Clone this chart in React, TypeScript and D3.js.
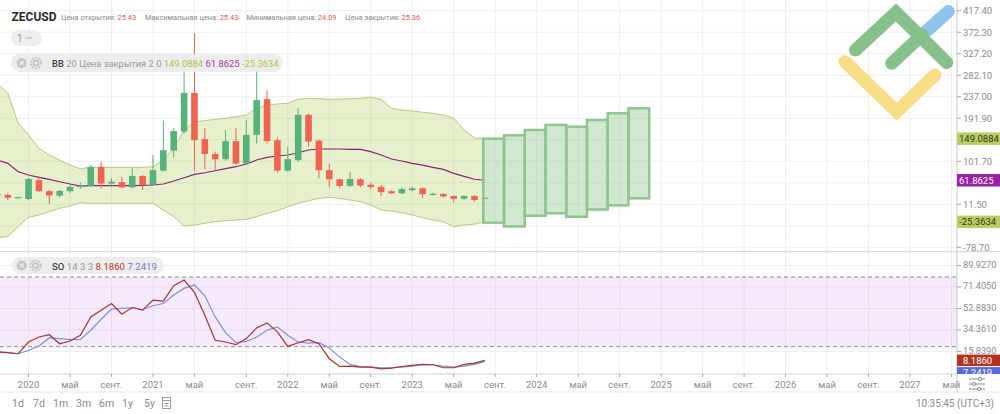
import React from "react";
import * as d3 from "d3";

// ---- data (monthly candles, index 0 = first slot, partly off-screen) ----
const candleOpen = [33, 31, 25.5, 22.6, 62, 39, 29.5, 39, 49, 50, 90, 55, 58, 47, 71, 52, 82, 124, 164, 245, 148, 117, 106, 144, 97, 157, 232, 146, 82, 104, 199, 145, 83, 64, 50, 64, 52.5, 48, 39, 34.5, 41, 45, 33, 33, 29, 23, 29, 25.43];
const candleHigh = [37, 34.5, 28, 67, 71, 42, 42, 51, 57, 94, 101, 66, 69, 87, 73, 115, 187, 171, 314, 371, 171, 122, 167, 171, 188, 290, 251, 152, 132, 213, 202, 147, 97, 65, 80, 66, 57, 52, 41, 47, 48, 47, 36, 35, 30, 30, 31, 25.43];
const candleLow = [28, 20.5, 24, 20, 37, 12, 26, 35, 44, 48, 45, 48, 45, 45, 41, 50, 80, 110, 160, 82, 85, 83, 103, 94, 94, 139, 139, 78, 80, 101, 132, 66, 48, 45, 48, 47, 43, 29, 33, 33, 39, 24, 30, 26, 15, 21, 17, 24.09];
const candleClose = [31, 25.3, 26.5, 64.5, 39, 30, 39.5, 48, 50, 90, 55, 59, 47, 71, 52, 83, 125, 165, 245, 146, 117, 106, 144, 97, 157, 230, 144, 82, 106, 199, 143, 83, 64, 50, 64.5, 51, 47.8, 37, 34.5, 43.5, 45, 32.5, 33.5, 28, 23, 29, 20.5, 25.36];

const bbUpper = [265, 244.2, 181.3, 156.8, 128.9, 114.8, 104.3, 93.8, 86, 89, 89, 89, 89, 89, 89, 90, 104.3, 128.9, 167.2, 184.7, 186.8, 189.7, 191.8, 195.1, 198.7, 212.7, 219.7, 221.8, 223.2, 231.6, 233.7, 232.9, 231.6, 232.2, 232.9, 233.7, 235.8, 231.6, 212.7, 209.2, 207.1, 204.3, 202.3, 198.7, 191.8, 167.2, 150.3, 149.0884];
const bbMiddle = [104, 97.4, 79.8, 72.9, 68, 63.8, 58.8, 54, 49.8, 50.5, 50.5, 50.5, 50.5, 50.5, 51, 51.9, 54, 60.3, 67.2, 74.3, 77.7, 81.9, 86.1, 90.3, 95.9, 104.3, 110, 112.7, 114.8, 119.6, 125.3, 127.4, 127.4, 127.4, 126.8, 126.8, 121.8, 114.8, 106.4, 102.2, 97.4, 93.8, 89, 84.8, 76.4, 70, 64, 61.8625];
const bbLower = [-58, -56.5, -35.5, -15.8, -11, -4.1, 3, 7.9, 14.8, 13.5, 13.5, 13.5, 13.5, 13.5, 13.5, 13.5, -0.5, -14.6, -34.1, -32, -28.4, -25, -22.9, -21.5, -20, -14.6, -7.4, -2, 6.4, 13.5, 19, 24, 26.1, 24, 20.5, 16.9, 10, -0.5, -2.6, -6.2, -11, -16.6, -21.5, -25, -35.5, -32, -29.9, -25.3634];

const soK = [15.4, 14.8, 13.9, 24, 28.3, 30.3, 22.5, 24.9, 29.8, 45.6, 51.4, 57.2, 48, 53.7, 51.4, 60.1, 59.2, 72.5, 77.4, 66.7, 47.1, 25.5, 24, 21.7, 26.9, 36.1, 40.5, 32.7, 20.2, 23.4, 26, 22.5, 9.6, 2.9, 3.2, 2.4, 2.4, 0.9, 1.5, 2.9, 3.8, 4.7, 4.4, 1.8, 1.8, 4.7, 5.8, 8.186];
const soD = [15.4, 14.8, 13.9, 16.8, 20.5, 27.5, 26.9, 26, 26.3, 34.1, 43.6, 52.3, 52.9, 53.5, 52, 55.2, 57.2, 64.4, 70.2, 73.1, 63.8, 45.6, 32.1, 23.4, 24.6, 28.3, 34.1, 37, 29.8, 24, 23.1, 23.4, 18.8, 11, 4.7, 2.9, 2.4, 1.8, 1.8, 2.4, 3.2, 4.4, 4.4, 3.2, 2.4, 3.2, 4.7, 7.2419];

const forecastTop = [149.1, 156.1, 167.3, 177.9, 174.2, 188.2, 202.3, 212.7];
const forecastBottom = [-27, -35, -12.5, -7.4, -14.6, 0.5, 9.3, 24];

const priceTicks = [417.4, 372.3, 327.2, 282.1, 237.0, 191.9, 146.8, 101.7, 56.6, 11.5, -33.6, -78.7];
const soTicks = [89.927, 71.405, 52.883, 34.361, 15.839];
const soLevels = [80, 20];

const xTickLabels = ["2020", "май", "сент.", "2021", "май", "сент.", "2022", "май", "сент.", "2023", "май", "сент.", "2024", "май", "сент.", "2025", "май", "сент.", "2026", "май", "сент.", "2027", "май"];
const xTickSlots = [3, 7, 11, 15, 19, 24, 28, 32, 36, 40, 44, 48, 52, 56, 60, 64, 68, 72, 76, 80, 84, 88, 92];

const toolbarLabels = ["1d", "7d", "1m", "3m", "6m", "1y", "5y"];
const headerLabels = ["Цена открытия:", "Максимальная цена:", "Минимальная цена:", "Цена закрытия:"];
const headerValues = ["25.43", "25.43", "24.09", "25.36"];

// ---- layout ----
const W = 1000;
const H = 414;
const AX = 957;
const P_TOP = 0;
const P_BOT = 251.7;
const S_TOP = 251.7;
const S_BOT = 374;
const BADGE_H = 11.5;
const FONT = "Roboto, 'Open Sans', Arial, sans-serif";

const GREEN = "#55b27a";
const RED = "#ee6450";

function CloseIcon({ x, y }: { x: number; y: number }) {
  return (
    <g>
      <circle cx={x} cy={y} r={5} fill="#c4c4c4" />
      <path d={`M${x - 2},${y - 2}L${x + 2},${y + 2}M${x + 2},${y - 2}L${x - 2},${y + 2}`} stroke="#f0f0f0" strokeWidth={1.3} />
    </g>
  );
}
function GearIcon({ x, y }: { x: number; y: number }) {
  return (
    <g>
      <circle cx={x} cy={y} r={5.2} fill="none" stroke="#c8c8c8" strokeWidth={2} strokeDasharray="2 1.3" />
      <circle cx={x} cy={y} r={3.6} fill="#c8c8c8" />
      <circle cx={x} cy={y} r={1.6} fill="#eeeeee" />
    </g>
  );
}

export default function App() {
  const n = candleOpen.length;
  const last = n - 1;
  const x = d3.scaleLinear().domain([0, 92]).range([-2.57, -2.57 + 92 * 10.37]);
  const py = d3.scaleLinear().domain([-87.9, 439.84]).range([P_BOT, P_TOP]);
  const sy = d3.scaleLinear().domain([-3.57, 101.8]).range([S_BOT, S_TOP]);

  const idx = d3.range(n);
  const band = d3.area<number>().x((i) => x(i)).y0((i) => py(bbLower[i])).y1((i) => py(bbUpper[i]));
  const lineOf = (arr: number[], sc: d3.ScaleLinear<number, number>) =>
    d3.line<number>().x((i) => x(i)).y((i) => sc(arr[i]))(idx) || "";

  const bodyW = 6.6;

  const priceBadges = [
    { v: bbUpper[last], bg: "#b9ce5f", fg: "#333", label: bbUpper[last].toFixed(4) },
    { v: bbMiddle[last], bg: "#9a1fa6", fg: "#fff", label: bbMiddle[last].toFixed(4) },
    { v: bbLower[last], bg: "#b9ce5f", fg: "#333", label: bbLower[last].toFixed(4) },
  ];
  const soBadgeK = sy(soK[last]);
  let soBadgeD = sy(soD[last]);
  if (Math.abs(soBadgeD - soBadgeK) < BADGE_H + 1) soBadgeD = soBadgeK + BADGE_H + 1;
  const soBadges = [
    { y: soBadgeK, bg: "#b5321f", fg: "#fff", label: soK[last].toFixed(4) },
    { y: soBadgeD, bg: "#5a6bd8", fg: "#fff", label: soD[last].toFixed(4) },
  ];
  const badgeYs = priceBadges.map((b) => py(b.v));

  const toolbarX = [12, 33, 53, 76, 99, 122, 144];
  const headerX = [61, 145, 246.5, 345];

  return (
    <div style={{ position: "fixed", left: 0, top: 0, width: W, height: H, background: "#fff" }}>
      <svg width={W} height={H} viewBox={`0 0 ${W} ${H}`} style={{ display: "block", fontFamily: FONT }}>
        <defs>
          <clipPath id="clipP">
            <rect x={0} y={P_TOP} width={AX} height={P_BOT - P_TOP} />
          </clipPath>
          <clipPath id="clipS">
            <rect x={0} y={S_TOP} width={AX} height={S_BOT - S_TOP} />
          </clipPath>
          <clipPath id="clipBadge">
            <rect x={AX} y={0} width={W - AX} height={S_BOT} />
          </clipPath>
        </defs>
        <rect x={0} y={0} width={W} height={H} fill="#fff" />

        {/* grid */}
        <g stroke="#eeeeee" strokeWidth={1}>
          {priceTicks.map((t, i) => (
            <line key={"pg" + i} x1={0} x2={AX} y1={py(t)} y2={py(t)} />
          ))}
          {soTicks.map((t, i) => (
            <line key={"sg" + i} x1={0} x2={AX} y1={sy(t)} y2={sy(t)} />
          ))}
          {xTickSlots.map((s, i) => (
            <line key={"vg" + i} x1={x(s)} x2={x(s)} y1={0} y2={S_BOT} />
          ))}
        </g>

        {/* logo */}
        <g strokeLinecap="round" fill="none" strokeWidth={13}>
          <path d="M845,61.7L896.7,111.7L935,75" stroke="#f8dc86" />
          <path d="M921,36L948.3,11.5" stroke="#8cc4ec" />
          <path d="M855.5,50L896,12.5L946.7,62.5" stroke="#86c08a" />
          <path d="M891.7,63.3L922,35" stroke="#86c08a" />
        </g>

        {/* price panel */}
        <g clipPath="url(#clipP)">
          <path d={band(idx) || ""} fill="rgba(175,205,90,0.3)" />
          <path d={lineOf(bbUpper, py)} fill="none" stroke="#b7c97c" strokeWidth={1} />
          <path d={lineOf(bbLower, py)} fill="none" stroke="#b7c97c" strokeWidth={1} />
          <path d={lineOf(bbMiddle, py)} fill="none" stroke="#8a2277" strokeWidth={1.2} />
          {idx.map((i) => {
            const o = candleOpen[i];
            const c = candleClose[i];
            const up = c >= o;
            const col = up ? GREEN : RED;
            const yTop = py(Math.max(o, c));
            const yBot = py(Math.min(o, c));
            const cx = x(i);
            return (
              <g key={"c" + i}>
                <line x1={cx} x2={cx} y1={py(candleHigh[i])} y2={py(candleLow[i])} stroke={col} strokeWidth={1} />
                <rect x={cx - bodyW / 2} y={yTop} width={bodyW} height={Math.max(1.2, yBot - yTop)} fill={col} />
              </g>
            );
          })}
          {forecastTop.map((t, k) => {
            const x0 = x(last - 0.15 + 2 * k);
            const x1 = x(last - 0.15 + 2 * k + 2);
            return (
              <rect
                key={"f" + k}
                x={x0}
                y={py(t)}
                width={x1 - x0}
                height={py(forecastBottom[k]) - py(t)}
                fill="rgba(120,190,120,0.35)"
                stroke="#8fc68f"
                strokeWidth={2.5}
              />
            );
          })}
        </g>

        {/* stochastic panel */}
        <g clipPath="url(#clipS)">
          <rect x={0} y={sy(soLevels[0])} width={AX} height={sy(soLevels[1]) - sy(soLevels[0])} fill="rgba(200,150,240,0.2)" />
          {soLevels.map((l, i) => (
            <line key={"lv" + i} x1={0} x2={AX} y1={sy(l)} y2={sy(l)} stroke="#8c8c8c" strokeWidth={1} strokeDasharray="4 3" />
          ))}
          <path d={lineOf(soD, sy)} fill="none" stroke="#8090dc" strokeWidth={1.2} />
          <path d={lineOf(soK, sy)} fill="none" stroke="#a8352a" strokeWidth={1.2} />
        </g>

        {/* axes lines */}
        <line x1={0} x2={W} y1={S_TOP} y2={S_TOP} stroke="#cfcfcf" />
        <line x1={0} x2={AX} y1={S_BOT} y2={S_BOT} stroke="#cfcfcf" />
        <line x1={AX} x2={AX} y1={0} y2={392} stroke="#c8c8c8" />
        <line x1={0} x2={W} y1={392} y2={392} stroke="#e3e3e3" />

        {/* right axis labels */}
        <g fontSize={9.5} fill="#8a8a8a">
          {priceTicks.map((t, i) => {
            const yy = py(t);
            const hidden = badgeYs.some((b) => Math.abs(b - yy) < 9);
            return (
              <g key={"pl" + i}>
                <line x1={AX} x2={AX + 4} y1={yy} y2={yy} stroke="#aaa" />
                {!hidden && (
                  <text x={AX + 6} y={yy} dominantBaseline="central">
                    {t.toFixed(2)}
                  </text>
                )}
              </g>
            );
          })}
          {soTicks.map((t, i) => (
            <g key={"sl" + i}>
              <line x1={AX} x2={AX + 4} y1={sy(t)} y2={sy(t)} stroke="#aaa" />
              <text x={AX + 6} y={sy(t) - 1} fontSize={9.2} dominantBaseline="central">
                {t.toFixed(4)}
              </text>
            </g>
          ))}
        </g>

        {/* badges */}
        <g fontSize={9.5}>
          {priceBadges.map((b, i) => (
            <g key={"pb" + i}>
              <rect x={AX} y={py(b.v) - BADGE_H / 2 - 0.5} width={W - AX} height={BADGE_H + 1} fill={b.bg} />
              <text x={AX + 2} y={py(b.v)} dominantBaseline="central" fill={b.fg}>
                {b.label}
              </text>
            </g>
          ))}
          <g clipPath="url(#clipBadge)">
            {soBadges.map((b, i) => (
              <g key={"sb" + i}>
                <rect x={AX} y={b.y - BADGE_H / 2} width={W - AX} height={BADGE_H} fill={b.bg} />
                <text x={AX + 6} y={b.y} dominantBaseline="central" fill={b.fg}>
                  {b.label}
                </text>
              </g>
            ))}
          </g>
        </g>

        {/* x axis */}
        <g fontSize={9.5} fill="#8a8a8a" textAnchor="middle">
          {xTickSlots.map((s, i) => (
            <g key={"xt" + i}>
              <line x1={x(s)} x2={x(s)} y1={S_BOT} y2={S_BOT + 3} stroke="#aaa" />
              <text x={x(s)} y={384} dominantBaseline="central">
                {xTickLabels[i]}
              </text>
            </g>
          ))}
        </g>
        {/* settings icon */}
        <g stroke="#8a8a8a" strokeWidth={1} fill="#fff">
          <line x1={969} x2={985} y1={379} y2={379} />
          <line x1={969} x2={985} y1={384} y2={384} />
          <line x1={969} x2={985} y1={389} y2={389} />
          <circle cx={980} cy={379} r={1.6} />
          <circle cx={974} cy={384} r={1.6} />
          <circle cx={979} cy={389} r={1.6} />
        </g>

        {/* header */}
        <text x={11.5} y={17} fontSize={12} fontWeight={700} fill="#2a2a2a" dominantBaseline="central">
          ZECUSD
        </text>
        {headerLabels.map((l, i) => (
          <text key={"h" + i} x={headerX[i]} y={17} fontSize={7.4} dominantBaseline="central">
            <tspan fill="#888">{l} </tspan>
            <tspan fill="#e25a4d">{headerValues[i]}</tspan>
          </text>
        ))}

        {/* 1 — pill */}
        <rect x={11} y={30} width={31} height={16} rx={8} fill="#eeeeee" />
        <text x={17} y={38} fontSize={10} fill="#9a9a9a" dominantBaseline="central">
          1
        </text>
        <line x1={26} x2={32} y1={38} y2={38} stroke="#b0b0b0" />

        {/* BB legend pill */}
        <rect x={11} y={54} width={272} height={18} rx={9} fill="rgba(236,236,236,0.92)" />
        <CloseIcon x={21.7} y={63} />
        <GearIcon x={36} y={63} />
        <text x={52} y={63} fontSize={9.4} dominantBaseline="central">
          <tspan fill="#444" fontWeight={500}>BB</tspan>
          <tspan fill="#9a9a9a"> 20 Цена закрытия 2 0 </tspan>
          <tspan fill="#adc447">{bbUpper[last].toFixed(4)} </tspan>
          <tspan fill="#a23aab">{bbMiddle[last].toFixed(4)} </tspan>
          <tspan fill="#adc447">{bbLower[last].toFixed(4)}</tspan>
        </text>

        {/* SO legend pill */}
        <rect x={12} y={257} width={152} height={17} rx={8.5} fill="rgba(236,236,236,0.92)" />
        <CloseIcon x={21.7} y={265.5} />
        <GearIcon x={35.5} y={265.5} />
        <text x={52} y={265.5} fontSize={9.6} dominantBaseline="central">
          <tspan fill="#444" fontWeight={500}>SO</tspan>
          <tspan fill="#9a9a9a"> 14 3 3 </tspan>
          <tspan fill="#b8392b">{soK[last].toFixed(4)} </tspan>
          <tspan fill="#6a7cd6">{soD[last].toFixed(4)}</tspan>
        </text>

        {/* toolbar */}
        <g fontSize={10.5} fill="#8a8a8a">
          {toolbarLabels.map((l, i) => (
            <text key={"tb" + i} x={toolbarX[i]} y={403} dominantBaseline="central">
              {l}
            </text>
          ))}
        </g>
        <g stroke="#9a9a9a" fill="none" strokeWidth={1}>
          <rect x={162.5} y={397.5} width={8} height={11} />
          <line x1={162.5} x2={170.5} y1={400.5} y2={400.5} />
          <line x1={164.5} x2={168.5} y1={403.5} y2={403.5} />
          <line x1={164.5} x2={168.5} y1={406} y2={406} />
        </g>
        <text x={994} y={403} fontSize={10} fill="#8a8a8a" textAnchor="end" dominantBaseline="central">
          10:35:45 (UTC+3)
        </text>
      </svg>
    </div>
  );
}
